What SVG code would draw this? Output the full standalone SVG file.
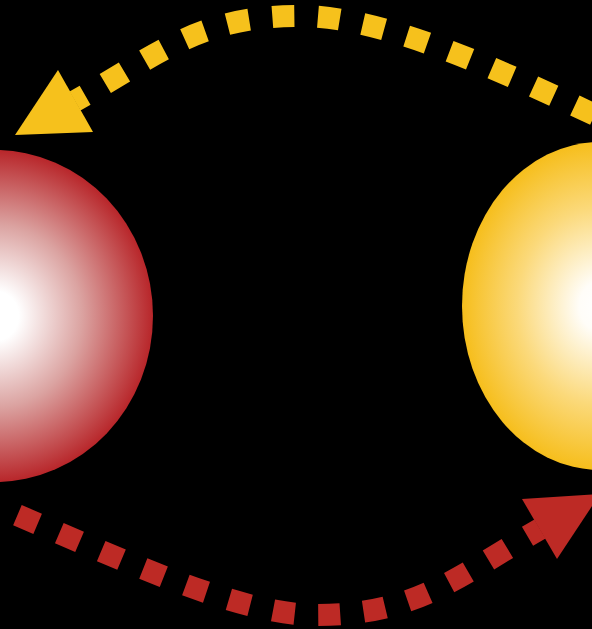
<svg xmlns="http://www.w3.org/2000/svg" width="592" height="629" viewBox="0 0 592 629">
  <defs>
    <radialGradient id="gRed" cx="0.5" cy="0.5" r="0.5">
      <stop offset="0" stop-color="#ffffff"/>
      <stop offset="0.15" stop-color="#ffffff"/>
      <stop offset="0.55" stop-color="#dba3a1"/>
      <stop offset="1" stop-color="#b8262a"/>
    </radialGradient>
    <radialGradient id="gYel" cx="0.5" cy="0.5" r="0.5">
      <stop offset="0" stop-color="#ffffff"/>
      <stop offset="0.15" stop-color="#fffdf8"/>
      <stop offset="0.6" stop-color="#fbd97a"/>
      <stop offset="1" stop-color="#f6be1c"/>
    </radialGradient>
  </defs>
  <style>
    .dash { fill: none; stroke-width: 22; stroke-dasharray: 22 23.5; }
    .yel { stroke: #f6c11c; }
    .red { stroke: #bd2a25; }
    .yfill { fill: #f6c11c; }
    .rfill { fill: #bd2a25; }
  </style>
  <rect x="0" y="0" width="592" height="629" fill="#000000"/>
  <g id="node-red">
    <ellipse cx="-5" cy="316" rx="158" ry="166" fill="url(#gRed)"/>
  </g>
  <g id="node-yellow">
    <ellipse cx="600" cy="306" rx="138" ry="164" fill="url(#gYel)"/>
  </g>
  <g id="connectors">
    <path class="dash yel" stroke-dashoffset="10.5" d="M75,101 C162,52 200,16 300,16 C390,16 520,80 610,122"/>
    <polygon class="yfill" points="58,70 15,135 93,132"/>
    <path class="dash red" stroke-dashoffset="7.6" d="M540,529 C454,579 415,615 315,615 C225,614 90,543 -20,500"/>
    <polygon class="rfill" points="522,499 600,494 557,559"/>
  </g>
</svg>
